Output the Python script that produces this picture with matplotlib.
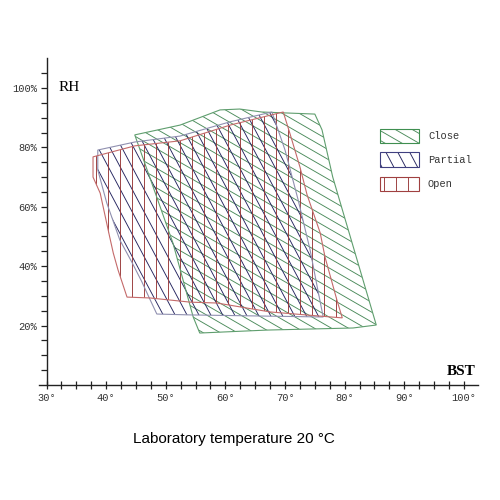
import numpy as np
import matplotlib
matplotlib.use("Agg")
import matplotlib.pyplot as plt
from matplotlib.patches import Polygon

# --- Veriler (BST derece, RH yüzde) ---
close_bst = [44.8, 52.4, 59.1, 62.4, 66.1, 75.0, 76.2, 78.0, 85.3, 81.4, 67.0, 55.7, 54.6, 51.2]
close_rh = [84.2, 87.5, 92.6, 92.9, 91.9, 91.2, 85.9, 70.0, 20.2, 19.2, 18.5, 17.5, 22.9, 47.8]

partial_bst = [38.6, 44.8, 52.4, 60.8, 67.8, 70.0, 72.2, 74.2, 75.5, 76.4,
               54.1, 48.5, 47.4, 46.0, 44.3, 42.3, 40.1, 38.6]
partial_rh = [79.1, 81.8, 83.8, 88.6, 91.9, 79.1, 62.3, 45.5, 32.0, 22.9,
              23.6, 23.9, 28.6, 34.7, 41.4, 48.8, 61.3, 72.4]

open_bst = [37.8, 44.8, 52.4, 60.8, 69.7, 70.8, 72.5, 73.7, 75.9, 76.7, 78.7, 79.6,
            75.9, 67.5, 58.6, 54.1, 47.4, 43.5, 42.0, 41.2, 40.6, 39.0, 37.8]
open_rh = [76.8, 80.5, 82.2, 87.5, 91.9, 84.8, 73.4, 64.0, 51.2, 43.1, 28.6, 22.6,
           23.2, 24.6, 27.6, 27.9, 29.3, 29.6, 38.7, 44.4, 49.8, 64.6, 70.0]

labels = ["Close", "Partial", "Open"]
x_ticks = [30, 40, 50, 60, 70, 80, 90, 100]
y_ticks = [20, 40, 60, 80, 100]

# --- Stiller ---
edge_colors = ["#5f9e6e", "#9090b0", "#c46a6a"]
hatch_colors = ["#4a8a5a", "#23235e", "#983838"]
hatch_angles = [-30, -62, 90]      # piksel uzayında derece
hatch_steps = [8.5, 10.5, 12.0]    # çizgiler arası piksel
MONO = "Liberation Mono"


def hatch_poly(ax, verts, trans, angle, step, hcolor, ecolor, lw=0.65):
    verts = np.asarray(verts, dtype=float)
    poly = Polygon(verts, closed=True, fill=False, edgecolor=ecolor, lw=0.8,
                   transform=trans, zorder=3)
    ax.add_patch(poly)
    pix = trans.transform(verts)
    a = np.deg2rad(angle)
    d = np.array([np.cos(a), np.sin(a)])
    n = np.array([-np.sin(a), np.cos(a)])
    proj = pix @ n
    along = pix @ d
    inv = ax.transData.inverted()
    for k in range(int(np.floor(proj.min() / step)), int(np.ceil(proj.max() / step)) + 1):
        p0 = k * step * n + (along.min() - 5) * d
        p1 = k * step * n + (along.max() + 5) * d
        seg = inv.transform(np.array([p0, p1]))
        ln, = ax.plot(seg[:, 0], seg[:, 1], color=hcolor, lw=lw, zorder=2)
        ln.set_clip_path(poly)
    return poly


fig = plt.figure(figsize=(5, 5), dpi=100)
ax = fig.add_axes([0, 0, 1, 1])
ax.set_xlim(22.2, 106.05)
ax.set_ylim(-38.7, 129.6)

for s in ["top", "right"]:
    ax.spines[s].set_visible(False)
ax.spines["left"].set_position(("data", 30))
ax.spines["left"].set_bounds(0, 110)
ax.spines["bottom"].set_position(("data", 0))
ax.spines["bottom"].set_bounds(28.8, 102.4)
for s in ["left", "bottom"]:
    ax.spines[s].set_linewidth(1.0)
    ax.spines[s].set_color("#222222")

ax.set_xticks(x_ticks)
ax.set_xticklabels([f"{t}°" for t in x_ticks], fontfamily=MONO, fontsize=7.5, color="#333333")
ax.get_xticklabels()[0].set_x(31.2)
ax.set_xticks(np.arange(30, 102.5, 2.5), minor=True)
ax.set_yticks(y_ticks)
ax.set_yticklabels([f"{t}%" for t in y_ticks], fontfamily=MONO, fontsize=7.5, color="#333333")
ax.set_yticks(np.arange(5, 110, 5), minor=True)
ax.tick_params(axis="x", which="both", direction="inout", length=6, width=0.9, pad=3, color="#222222")
ax.tick_params(axis="y", which="both", direction="out", length=4, width=0.9, pad=3, color="#222222")

# --- Bölgeler ---
polys = [(close_bst, close_rh), (partial_bst, partial_rh), (open_bst, open_rh)]
for i, (bx, ry) in enumerate(polys):
    hatch_poly(ax, np.column_stack([bx, ry]), ax.transData, hatch_angles[i],
               hatch_steps[i], hatch_colors[i], edge_colors[i])

# --- Lejant ---
leg_y = [0.714, 0.666, 0.618]
for i, lab in enumerate(labels):
    x0, y0, w, h = 0.760, leg_y[i], 0.078, 0.029
    box = [(x0, y0), (x0 + w, y0), (x0 + w, y0 + h), (x0, y0 + h)]
    hatch_poly(ax, box, ax.transAxes, hatch_angles[i], hatch_steps[i],
               hatch_colors[i], ["#3f8f50", "#404080", "#a04040"][i])
    ax.text(0.856, y0 + h / 2, lab, transform=ax.transAxes, fontfamily=MONO,
            fontsize=7.5, va="center", ha="left", color="#333333")

# --- Eksen etiketleri ---
ax.text(32.0, 100, "RH", fontfamily="Liberation Serif", fontsize=11, va="center", ha="left")
ax.text(102.0, 4.7, "BST", fontfamily="Liberation Serif", fontweight="bold", fontsize=11,
        va="center", ha="right")
fig.text(0.468, 0.122, "Laboratory temperature 20 °C", fontfamily="Liberation Sans",
         fontsize=11, ha="center", va="center")

fig.savefig("out.png", dpi=100, facecolor="white")
